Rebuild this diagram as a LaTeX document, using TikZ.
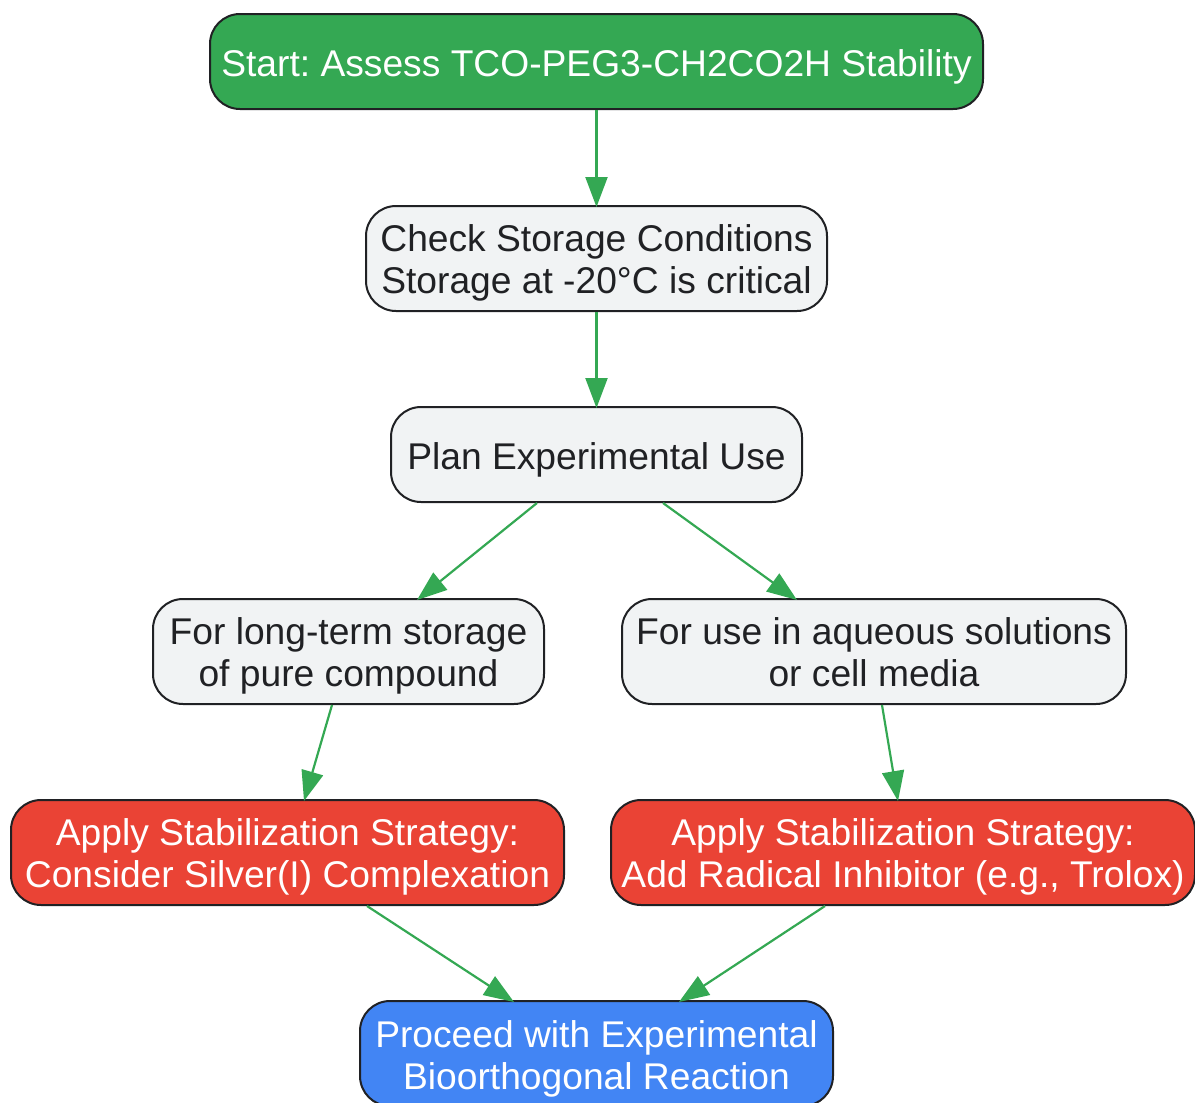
\documentclass[tikz,border=0pt]{standalone}
\usepackage{fontspec}
\setmainfont{Liberation Sans}
\usetikzlibrary{arrows.meta}
\definecolor{ggreen}{HTML}{34A853}
\definecolor{gred}{HTML}{EA4335}
\definecolor{gblue}{HTML}{4285F4}
\definecolor{ggray}{HTML}{F1F3F4}
\definecolor{gdark}{HTML}{202124}
\newcommand\txtlines[2]{\smash{\raisebox{#1}{\begin{tabular}[t]{@{}c@{}}#2\end{tabular}}}}
\begin{document}
\frenchspacing
\begin{tikzpicture}[x=1pt,y=-1pt,
  box/.style={draw=gdark,line width=2pt,rounded corners=30pt,inner sep=0pt,
    font=\fontsize{37.2}{42}\selectfont},
  graybox/.style={box,fill=ggray,text=gdark},
  greenbox/.style={box,fill=ggreen,text=white},
  redbox/.style={box,fill=gred,text=white},
  bluebox/.style={box,fill=gblue,text=white},
  conn/.style={draw=ggreen,line width=2.2pt,-{Triangle[length=30pt,width=22pt]}}]
\useasboundingbox (0,0) rectangle (1195,1103);
\node[greenbox,minimum width=773pt,minimum height=95pt] (n1) at (596.5,61.5) {\txtlines{-14.5pt}{Start: Assess TCO-PEG3-CH2CO2H Stability}};
\node[graybox,minimum width=461pt,minimum height=105pt] (n2) at (596.5,258.5) {\txtlines{7pt}{Check Storage Conditions\\Storage at -20°C is critical}};
\node[graybox,minimum width=411pt,minimum height=95pt] (n3) at (596.5,454.5) {\txtlines{-14.5pt}{Plan Experimental Use}};
\node[graybox,minimum width=391pt,minimum height=105pt] (n4) at (348.5,651.5) {\txtlines{7pt}{For long-term storage\\of pure compound}};
\node[graybox,minimum width=504pt,minimum height=105pt] (n5) at (874,651.5) {\txtlines{7pt}{For use in aqueous solutions\\or cell media}};
\node[redbox,minimum width=553pt,minimum height=105pt] (n6) at (287.5,852.5) {\txtlines{7pt}{Apply Stabilization Strategy:\\Consider Silver(I) Complexation}};
\node[redbox,minimum width=584pt,minimum height=105pt] (n7) at (903,852.5) {\txtlines{7pt}{Apply Stabilization Strategy:\\Add Radical Inhibitor (e.g., Trolox)}};
\node[bluebox,minimum width=473pt,minimum height=105pt] (n8) at (596.5,1053.5) {\txtlines{6pt}{Proceed with Experimental\\Bioorthogonal Reaction}};
\draw[conn] (n1.south) -- ([yshift=-2pt]n2.north);
\draw[conn] (n2.south) -- ([yshift=-2pt]n3.north);
\draw[conn] ([xshift=-59.5pt]n3.south) -- ([xshift=68.5pt,yshift=-2pt]n4.north);
\draw[conn] ([xshift=66.5pt]n3.south) -- ([xshift=-77pt,yshift=-2pt]n5.north);
\draw[conn] ([xshift=-16.5pt]n4.south) -- ([xshift=16.5pt,yshift=-2pt]n6.north);
\draw[conn] ([xshift=8pt]n5.south) -- ([xshift=-5pt,yshift=-2pt]n7.north);
\draw[conn] ([xshift=79.5pt]n6.south) -- ([xshift=-82.5pt,yshift=-2pt]n8.north);
\draw[conn] ([xshift=-78pt]n7.south) -- ([xshift=82.5pt,yshift=-2pt]n8.north);
\end{tikzpicture}
\end{document}
